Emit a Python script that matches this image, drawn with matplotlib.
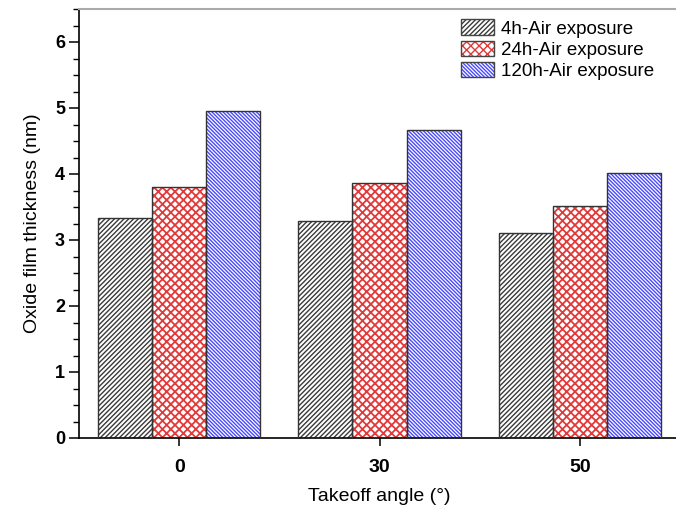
import matplotlib
matplotlib.use("Agg")
import matplotlib.pyplot as plt
import numpy as np
from matplotlib.patches import Patch
from matplotlib.legend_handler import HandlerTuple
from matplotlib.ticker import MultipleLocator

plt.rcParams['font.family'] = ['Liberation Sans', 'DejaVu Sans']

angles = ['0', '30', '50']
series = ['4h-Air exposure', '24h-Air exposure', '120h-Air exposure']
thick_4h = [3.33, 3.29, 3.10]
thick_24h = [3.81, 3.86, 3.51]
thick_120h = [4.95, 4.67, 4.02]

values = [thick_4h, thick_24h, thick_120h]
hatches = ['/' * 7, 'xxxx', '\\' * 9]
hatch_colors = ['#3a3a3a', '#e03a3a', '#4a4aff']
hatch_lws = [1.0, 1.3, 1.0]

fig = plt.figure(figsize=(6.76, 5.16), dpi=100)
ax = fig.add_axes([79/676, 78/516, 601/676, 429/516])

x = np.arange(len(angles))
w = 0.27
handles = []
for i, (vals, h, hc, hlw) in enumerate(zip(values, hatches, hatch_colors, hatch_lws)):
    pos = x + (i - 1) * w
    with plt.rc_context({'hatch.linewidth': hlw, 'hatch.color': hc}):
        ax.bar(pos, vals, w, color='white', edgecolor=hc, hatch=h, linewidth=0, zorder=2)
        hp = Patch(facecolor='white', edgecolor=hc, hatch=h, linewidth=0)
    ax.bar(pos, vals, w, fill=False, edgecolor='#333333', linewidth=1.0, zorder=3)
    op = Patch(fill=False, edgecolor='#444444', linewidth=1.0)
    handles.append((hp, op))

ax.set_xlim(-0.5, 2.5)
ax.set_ylim(0, 6.5)
ax.set_xticks(x)
ax.set_xticklabels(angles, fontweight='bold', fontsize=14)
ax.yaxis.set_major_locator(MultipleLocator(1))
ax.yaxis.set_minor_locator(MultipleLocator(0.25))
for lab in ax.get_yticklabels():
    lab.set_fontweight('bold')
    lab.set_fontsize(13)
ax.tick_params(axis='y', which='major', direction='out', length=7, width=1.1, pad=3)
ax.tick_params(axis='y', which='minor', direction='out', length=4, width=1.0)
ax.tick_params(axis='x', which='major', direction='out', length=6, width=1.1, pad=9)

ax.spines['right'].set_visible(False)
ax.spines['top'].set_color('#aaaaaa')
ax.spines['top'].set_linewidth(1.5)
ax.spines['left'].set_linewidth(1.2)
ax.spines['bottom'].set_linewidth(1.2)

ax.set_xlabel('Takeoff angle (°)', fontsize=14, labelpad=9)
ax.set_ylabel('Oxide film thickness (nm)', fontsize=14, labelpad=10)

ax.legend(handles, series, handler_map={tuple: HandlerTuple(ndivide=1, pad=0)},
          loc='upper right', bbox_to_anchor=(0.985, 1.015), frameon=False, fontsize=13.5,
          handlelength=1.8, handleheight=0.9, handletextpad=0.35, labelspacing=0.15)

fig.savefig('out.png', dpi=100)
